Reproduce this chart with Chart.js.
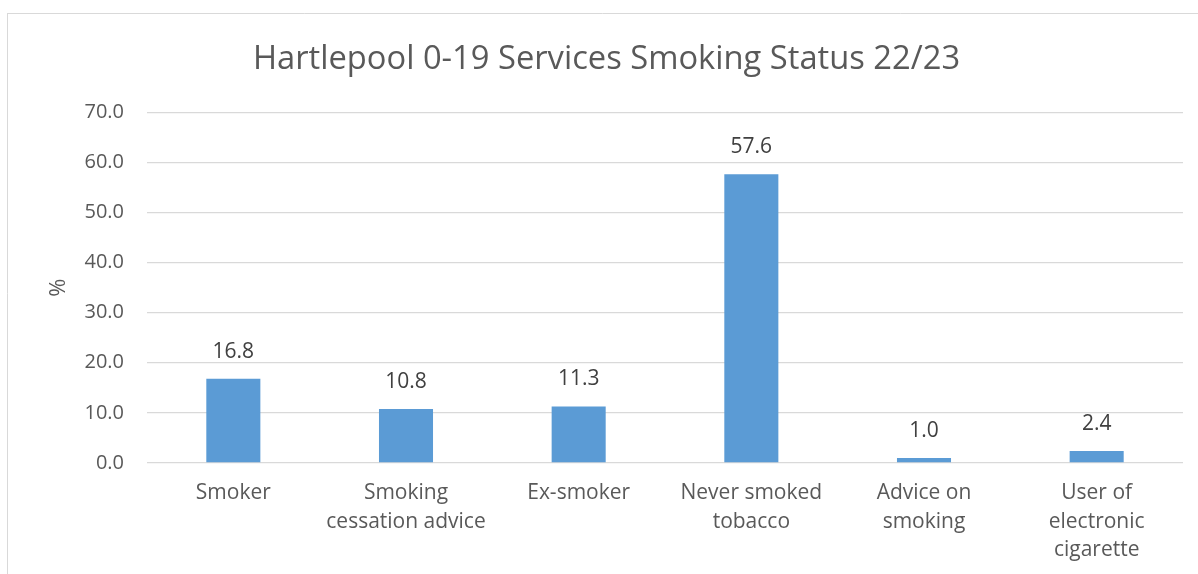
<!DOCTYPE html>
<html>
<head>
<meta charset="utf-8">
<script src="https://cdn.jsdelivr.net/npm/chart.js@4.4.1/dist/chart.umd.min.js"></script>
<style>
html,body{margin:0;padding:0;background:#fff;}
#wrap{position:absolute;left:0;top:0;width:1198px;height:574px;}
</style>
</head>
<body>
<div id="wrap"><canvas id="c" width="1198" height="574"></canvas></div>
<script>
const chartTitle = "Hartlepool 0-19 Services Smoking Status 22/23";
const categories = [["Smoker"], ["Smoking", "cessation advice"], ["Ex-smoker"], ["Never smoked", "tobacco"], ["Advice on", "smoking"], ["User of", "electronic", "cigarette"]];
const values = [16.8, 10.8, 11.3, 57.6, 1.0, 2.4];
const yTitle = "%";
const yMin = 0, yMax = 70, yStep = 10;

const FONT = "'Open Sans', 'Noto Sans', sans-serif";

const borderPlugin = {
  id: 'outerBorder',
  beforeDraw(chart) {
    const ctx = chart.ctx;
    ctx.save();
    ctx.fillStyle = '#ffffff';
    ctx.fillRect(0, 0, chart.width, chart.height);
    ctx.strokeStyle = '#d9d9d9';
    ctx.lineWidth = 1;
    ctx.beginPath();
    ctx.moveTo(7, 13.5);
    ctx.lineTo(chart.width, 13.5);
    ctx.moveTo(7.5, 13);
    ctx.lineTo(7.5, chart.height);
    ctx.stroke();
    ctx.restore();
  }
};

const labelPlugin = {
  id: 'barLabels',
  afterDatasetsDraw(chart) {
    const ctx = chart.ctx;
    const meta = chart.getDatasetMeta(0);
    ctx.save();
    ctx.font = "21px " + FONT;
    ctx.fillStyle = '#404040';
    ctx.textAlign = 'center';
    ctx.textBaseline = 'middle';
    meta.data.forEach((bar, i) => {
      ctx.fillText(values[i].toFixed(1), bar.x, bar.y - 27);
    });
    ctx.restore();
  }
};

new Chart(document.getElementById('c'), {
  type: 'bar',
  data: {
    labels: categories,
    datasets: [{
      data: values,
      backgroundColor: '#5b9bd5',
      borderWidth: 0,
      categoryPercentage: 1.0,
      barPercentage: 0.313
    }]
  },
  options: {
    responsive: false,
    animation: false,
    devicePixelRatio: 1,
    layout: { padding: { top: 0, left: 30, right: 15, bottom: 0 } },
    plugins: {
      legend: { display: false },
      tooltip: { enabled: false },
      title: {
        display: true,
        text: chartTitle,
        color: '#595959',
        font: { family: FONT, size: 32.7, weight: 'normal', lineHeight: 1.2 },
        padding: { top: 40, bottom: 33 }
      }
    },
    scales: {
      x: {
        grid: { display: false, drawTicks: false },
        border: { display: false },
        ticks: {
          color: '#595959',
          font: { family: FONT, size: 21, lineHeight: 1.36 },
          padding: 16,
          maxRotation: 0,
          autoSkip: false
        },
        afterFit(scale) { scale.height = 111; }
      },
      y: {
        min: yMin,
        max: yMax,
        grid: { color: '#d9d9d9', lineWidth: 1.3, drawTicks: false },
        border: { display: false },
        ticks: {
          stepSize: yStep,
          color: '#595959',
          font: { family: FONT, size: 20 },
          padding: 23,
          callback: (v) => Number(v).toFixed(1)
        },
        title: {
          display: true,
          text: yTitle,
          color: '#595959',
          font: { family: FONT, size: 22 },
          padding: { top: 16, bottom: 0 }
        },
        afterFit(scale) { scale.width = 117; }
      }
    }
  },
  plugins: [borderPlugin, labelPlugin]
});
</script>
</body>
</html>
